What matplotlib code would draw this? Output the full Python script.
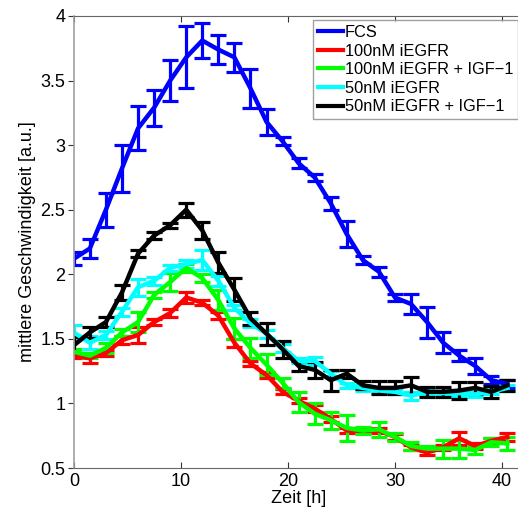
import numpy as np
import matplotlib
matplotlib.use("Agg")
import matplotlib.pyplot as plt
from matplotlib.ticker import FuncFormatter

plt.rcParams["font.family"] = ["Liberation Sans", "DejaVu Sans"]

# time points [h]
zeit = np.arange(28) * 1.5

fcs = [2.12, 2.20, 2.50, 2.82, 3.13, 3.29, 3.50, 3.68, 3.81, 3.74, 3.68, 3.44, 3.18, 3.03,
       2.86, 2.75, 2.55, 2.31, 2.11, 2.02, 1.82, 1.77, 1.63, 1.47, 1.37, 1.29, 1.18, 1.15]
fcs_err = [0.05, 0.07, 0.13, 0.18, 0.17, 0.14, 0.16, 0.24, 0.135, 0.11, 0.11, 0.15, 0.10, 0.03,
           0.04, 0.03, 0.05, 0.10, 0.03, 0.04, 0.03, 0.08, 0.12, 0.08, 0.04, 0.065, 0.03, 0.03]

egfr100 = [1.37, 1.35, 1.39, 1.49, 1.53, 1.63, 1.70, 1.82, 1.78, 1.68, 1.47, 1.31, 1.22, 1.09,
           1.02, 0.96, 0.88, 0.79, 0.79, 0.79, 0.74, 0.66, 0.62, 0.66, 0.73, 0.67, 0.71, 0.74]
egfr100_err = [0.02, 0.04, 0.02, 0.03, 0.065, 0.02, 0.03, 0.045, 0.02, 0.03, 0.03, 0.02, 0.02, 0.02,
               0.02, 0.03, 0.02, 0.02, 0.02, 0.02, 0.02, 0.02, 0.02, 0.02, 0.05, 0.02, 0.02, 0.03]

egfr100_igf = [1.40, 1.37, 1.43, 1.55, 1.63, 1.84, 1.94, 2.05, 1.97, 1.80, 1.58, 1.43, 1.30, 1.16,
               1.01, 0.92, 0.87, 0.81, 0.79, 0.80, 0.74, 0.67, 0.65, 0.65, 0.65, 0.64, 0.70, 0.69]
egfr100_igf_err = [0.02, 0.02, 0.04, 0.03, 0.08, 0.02, 0.07, 0.03, 0.03, 0.08, 0.08, 0.08, 0.08, 0.04,
                   0.08, 0.08, 0.065, 0.10, 0.03, 0.06, 0.03, 0.03, 0.02, 0.07, 0.07, 0.03, 0.03, 0.05]

egfr50 = [1.55, 1.47, 1.53, 1.71, 1.90, 1.95, 2.05, 2.08, 2.11, 1.95, 1.74, 1.62, 1.54, 1.43,
          1.33, 1.33, 1.23, 1.14, 1.12, 1.10, 1.09, 1.06, 1.09, 1.08, 1.08, 1.07, 1.09, 1.12]
egfr50_err = [0.06, 0.05, 0.03, 0.03, 0.065, 0.03, 0.025, 0.03, 0.08, 0.04, 0.02, 0.03, 0.03, 0.03,
              0.02, 0.03, 0.02, 0.02, 0.02, 0.02, 0.02, 0.03, 0.02, 0.02, 0.02, 0.02, 0.02, 0.02]

egfr50_igf = [1.45, 1.55, 1.63, 1.86, 2.16, 2.30, 2.38, 2.50, 2.34, 2.09, 1.88, 1.66, 1.54, 1.42,
              1.29, 1.26, 1.18, 1.23, 1.14, 1.12, 1.12, 1.14, 1.09, 1.09, 1.10, 1.12, 1.09, 1.14]
egfr50_igf_err = [0.065, 0.04, 0.04, 0.06, 0.025, 0.03, 0.02, 0.055, 0.065, 0.08, 0.09, 0.05, 0.085, 0.065,
                  0.04, 0.06, 0.08, 0.03, 0.03, 0.05, 0.05, 0.065, 0.04, 0.04, 0.065, 0.045, 0.045, 0.04]

labels = ["FCS", "100nM iEGFR", "100nM iEGFR + IGF\u22121", "50nM iEGFR", "50nM iEGFR + IGF\u22121"]
werte = [fcs, egfr100, egfr100_igf, egfr50, egfr50_igf]
fehler = [fcs_err, egfr100_err, egfr100_igf_err, egfr50_err, egfr50_igf_err]
farben = ["#0000ff", "#ff0000", "#00ff00", "#00ffff", "#000000"]

fig = plt.figure(figsize=(5.18, 5.16), dpi=100)
ax = fig.add_axes([0.1425, 0.093, 0.868, 0.876])

handles = []
for y, err, col in zip(werte, fehler, farben):
    eb = ax.errorbar(zeit, y, yerr=err, color=col, lw=3.2, elinewidth=2.3,
                     capsize=6, capthick=2.3)
    handles.append(eb[0])

ax.set_xlim(0, 42)
ax.set_ylim(0.5, 4)
ax.set_xticks([0, 10, 20, 30, 40])
ax.set_yticks(np.arange(0.5, 4.01, 0.5))
ax.yaxis.set_major_formatter(FuncFormatter(lambda v, p: f"{v:g}"))

ax.tick_params(axis="both", labelsize=13, length=4, width=0.8, colors="#333333",
               labelcolor="black")
ax.tick_params(axis="x", direction="in", top=True)
ax.tick_params(axis="y", direction="out", pad=2)
for side in ["top", "bottom"]:
    ax.spines[side].set_color("#666666")
ax.spines["left"].set_color("#a0a0a0")
ax.spines["left"].set_linewidth(1.2)
ax.spines["right"].set_visible(False)

ax.set_xlabel("Zeit [h]", fontsize=13, labelpad=0)
ax.set_ylabel("mittlere Geschwindigkeit [a.u.]", fontsize=13, labelpad=3)

leg = ax.legend(handles, labels, loc="upper left",
                bbox_to_anchor=(313 / 518, 1 - 20 / 516), bbox_transform=fig.transFigure,
                fontsize=11.8, frameon=True, fancybox=False, borderaxespad=0,
                handlelength=1.5, handletextpad=0.15, labelspacing=0.22, borderpad=0.3)
leg.get_frame().set_edgecolor("#888888")
leg.get_frame().set_linewidth(1.0)
for line in leg.get_lines():
    line.set_linewidth(3)

fig.savefig("out.png", dpi=100)
